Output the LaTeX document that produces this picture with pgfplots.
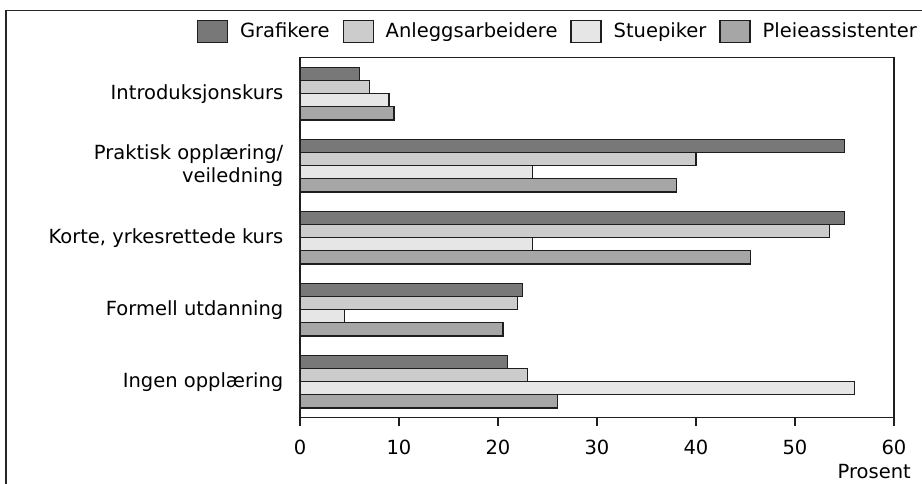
\documentclass[border=0pt]{standalone}
\usepackage{pgfplots}
\pgfplotsset{compat=1.18}
\usepackage{fontspec}
\setmainfont{DejaVu Sans}
\definecolor{cGraf}{HTML}{787878}
\definecolor{cAnl}{HTML}{CCCCCC}
\definecolor{cStue}{HTML}{E6E6E6}
\definecolor{cPleie}{HTML}{A6A6A6}
\definecolor{cEdge}{HTML}{1E1E1E}
\newcommand{\fs}{\fontsize{19.5}{23}\selectfont}
\begin{document}
\fs
\begin{tikzpicture}[x=1pt,y=1pt]
\useasboundingbox (0,0) rectangle (922,483);
\draw[line width=1.6pt, color=black!85] (6,-20) -- (6,472.3) -- (950,472.3);
\begin{axis}[
  at={(300pt,65.3pt)}, anchor=south west,
  scale only axis, width=594pt, height=360pt,
  xbar,
  bar width=0.183,
  xmin=0, xmax=60, ymin=-0.5, ymax=4.5,
  y dir=reverse,
  axis line style={line width=1.2pt, color=cEdge},
  xtick={0,10,...,60},
  xtick pos=bottom,
  tick align=outside,
  major tick length=8pt,
  x tick style={line width=1.2pt, color=cEdge},
  ytick={0,1,2,3,4},
  y tick style={draw=none},
  yticklabels={Introduksjonskurs,{Praktisk opplæring/\\veiledning},{Korte, yrkesrettede kurs},Formell utdanning,Ingen opplæring},
  yticklabel style={align=right, font=\fs, xshift=-2pt},
  xticklabel style={font=\fs, yshift=-8pt},
  /pgf/number format/assume math mode=true,
  xlabel={Prosent},
  xlabel style={at={(rel axis cs:1,0)}, anchor=north east, yshift=-46pt, xshift=17pt, font=\fs, inner sep=0pt},
  legend image code/.code={\draw[#1] (0pt,-11pt) rectangle (30pt,11pt);},
  legend columns=-1,
  legend style={at={(1.0387,1.0736)}, anchor=east, draw=none, fill=none, inner sep=0pt,
    font=\fs,
    nodes={inner sep=0pt},
    /tikz/every odd column/.append style={column sep=12pt},
    /tikz/every even column/.append style={column sep=13pt}},
  every axis plot/.append style={draw=cEdge, line width=1.2pt},
]
\addplot[fill=cGraf, bar shift=-0.2745] coordinates {(6,0) (55,1) (55,2) (22.5,3) (21,4)};
\addplot[fill=cAnl, bar shift=-0.0915] coordinates {(7,0) (40,1) (53.5,2) (22,3) (23,4)};
\addplot[fill=cStue, bar shift=0.0915] coordinates {(9,0) (23.5,1) (23.5,2) (4.5,3) (56,4)};
\addplot[fill=cPleie, bar shift=0.2745] coordinates {(9.5,0) (38,1) (45.5,2) (20.5,3) (26,4)};
\legend{Grafikere,Anleggsarbeidere,Stuepiker,Pleieassistenter}
\end{axis}
\end{tikzpicture}
\end{document}
